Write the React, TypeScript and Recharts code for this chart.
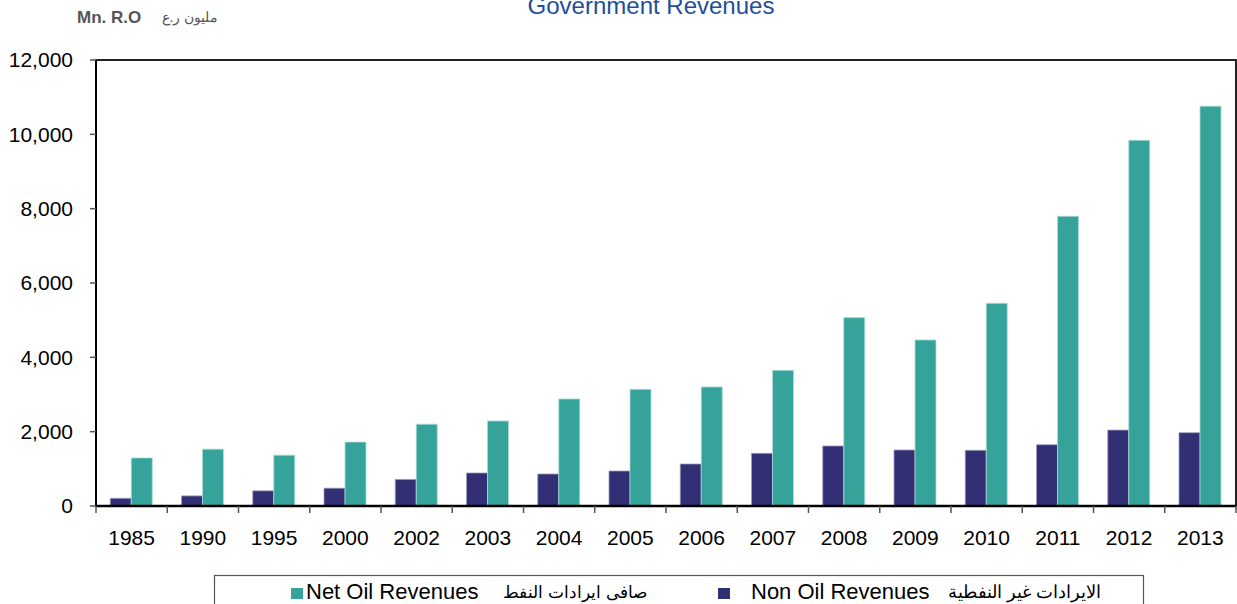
import { BarChart, Bar, XAxis, YAxis, ReferenceArea } from "recharts"

const years = ["1985", "1990", "1995", "2000", "2002", "2003", "2004", "2005", "2006", "2007", "2008", "2009", "2010", "2011", "2012", "2013"]
const nonOilRevenues = [207, 272, 408, 478, 715, 888, 861, 942, 1130, 1416, 1615, 1507, 1497, 1648, 2042, 1972]
const netOilRevenues = [1293, 1530, 1367, 1720, 2201, 2288, 2880, 3138, 3203, 3650, 5069, 4468, 5454, 7795, 9839, 10758]
const yTicks = [0, 2000, 4000, 6000, 8000, 10000, 12000]

const data = years.map((year, i) => ({
  year,
  nonOil: nonOilRevenues[i],
  netOil: netOilRevenues[i],
}))

const W = 1237
const H = 604
const PLOT_LEFT = 96
const PLOT_RIGHT = 1236
const BAND = (PLOT_RIGHT - PLOT_LEFT) / years.length

const TEAL = "#36a39b"
const NAVY = "#332f74"

function YearTick(props: any) {
  const { x, y, payload, index } = props
  const top = y - 7
  const left = x - BAND / 2
  return (
    <g>
      <line x1={left} x2={left} y1={top} y2={top + 7} stroke="#555" strokeWidth={1.5} />
      {index === years.length - 1 && (
        <line x1={x + BAND / 2} x2={x + BAND / 2} y1={top} y2={top + 7} stroke="#555" strokeWidth={1.5} />
      )}
      <text x={x} y={top + 39} textAnchor="middle" fontSize={21} fill="#000">
        {payload.value}
      </text>
    </g>
  )
}

export default function App() {
  return (
    <div
      style={{
        position: "absolute",
        left: 0,
        top: 0,
        width: W,
        height: H,
        overflow: "hidden",
        background: "#fff",
        fontFamily: "'Liberation Sans', Arial, sans-serif",
      }}
    >
      <BarChart
        width={W}
        height={H}
        data={data}
        margin={{ top: 60, right: 1, left: 0, bottom: 68 }}
        barCategoryGap="20%"
        barGap={0}
      >
        <XAxis
          dataKey="year"
          height={30}
          axisLine={{ stroke: "#000", strokeWidth: 2.5 }}
          tickLine={false}
          tickSize={7}
          tickMargin={0}
          interval={0}
          tick={<YearTick />}
        />
        <YAxis
          width={96}
          domain={[0, 12000]}
          ticks={yTicks}
          interval={0}
          axisLine={{ stroke: "#000", strokeWidth: 2 }}
          tickLine={{ stroke: "#555", strokeWidth: 1.5 }}
          tickSize={6}
          tickMargin={17}
          tick={{ fontSize: 21, fill: "#000" }}
          tickFormatter={(v: number) => v.toLocaleString("en-US")}
        />
        <ReferenceArea y1={0} y2={12000} fill="none" stroke="#222" strokeWidth={2} ifOverflow="visible" />
        <Bar dataKey="nonOil" fill={NAVY} stroke="#9d9bc2" strokeWidth={0.8} isAnimationActive={false} />
        <Bar dataKey="netOil" fill={TEAL} stroke="#a9ddd8" strokeWidth={0.8} isAnimationActive={false} />
      </BarChart>

      <svg
        width={W}
        height={H}
        style={{ position: "absolute", left: 0, top: 0, pointerEvents: "none" }}
      >
        <text x={651} y={14} textAnchor="middle" fontSize={24} fill="#1f4e9b">
          Government Revenues
        </text>
        <text x={77} y={23} fontSize={17} fontWeight={600} fill="#555">
          Mn. R.O
        </text>
        <text x={190} y={22} textAnchor="middle" fontSize={14} fill="#555">
          مليون ر.ع
        </text>

        <rect x={214.5} y={575.5} width={929} height={60} fill="none" stroke="#555" strokeWidth={1.2} />
        <rect x={291} y={588} width={12} height={11} fill={TEAL} />
        <text x={306} y={599} fontSize={22} fill="#000">
          Net Oil Revenues
        </text>
        <text x={575} y={598} textAnchor="middle" fontSize={17} fill="#000">
          صافى ايرادات النفط
        </text>
        <rect x={718} y={588} width={12} height={11} fill={NAVY} />
        <text x={751} y={599} fontSize={22} fill="#000">
          Non Oil Revenues
        </text>
        <text x={1025} y={598} textAnchor="middle" fontSize={18} fill="#000">
          الايرادات غير النفطية
        </text>
      </svg>
    </div>
  )
}
